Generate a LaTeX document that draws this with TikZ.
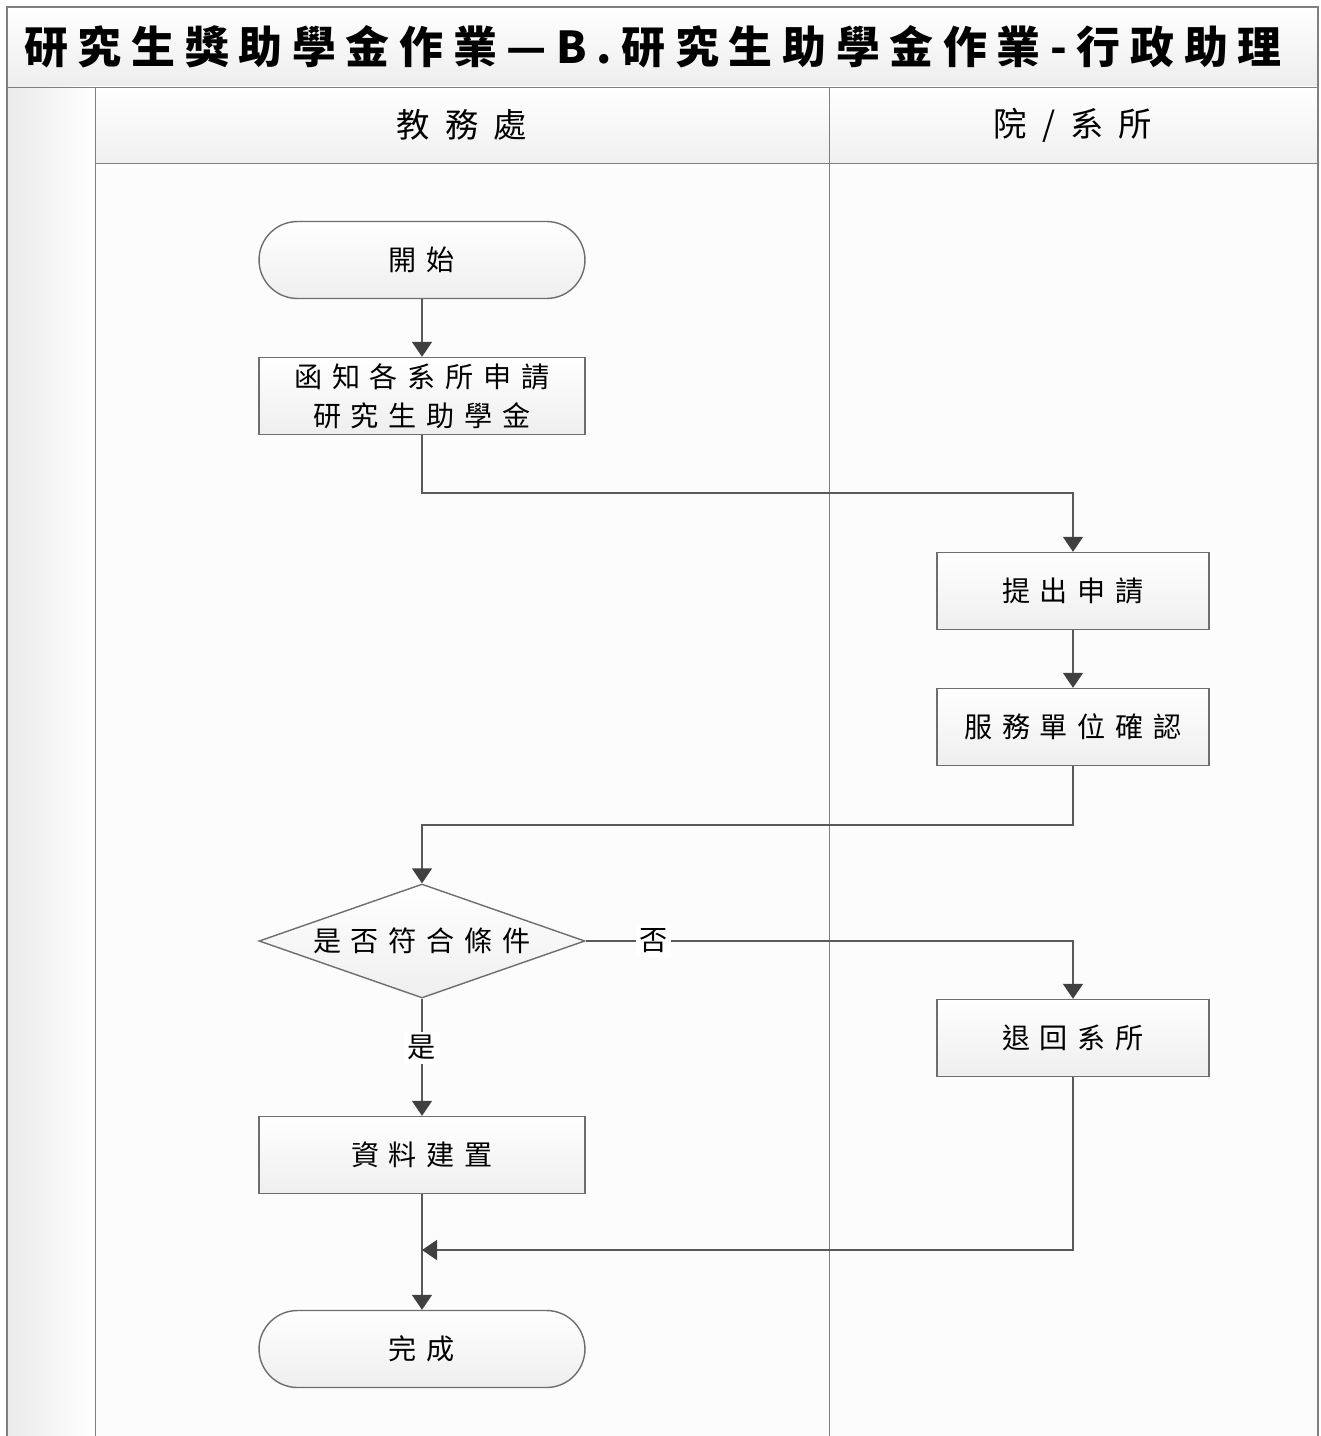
\documentclass[tikz,border=0pt]{standalone}
\usepackage{fontspec}
\newfontfamily\cjk[LetterSpace=35]{Noto Sans CJK TC}
\newfontfamily\cjkhead[LetterSpace=45]{Noto Sans CJK TC}
\newfontfamily\cjktitle[LetterSpace=22]{Noto Sans CJK TC}
\usepackage{xcolor}
\usetikzlibrary{arrows.meta, shapes.geometric, shapes.misc}

\definecolor{linegray}{HTML}{595959}
\definecolor{tipgray}{HTML}{404040}
\definecolor{framegray}{HTML}{7F7F7F}
\definecolor{boxgray}{HTML}{6E6E6E}

\tikzset{
	flowbox/.style={draw=boxgray, line width=0.8pt, top color=white, bottom color=gray!13,
		minimum width=6.52cm, minimum height=1.54cm, inner sep=0pt, align=center,
		font=\cjk\fontsize{16}{22}\selectfont},
	smallbox/.style={flowbox, minimum width=5.44cm},
	terminal/.style={flowbox, rounded rectangle},
	decision/.style={flowbox, diamond, shape aspect=2.86, minimum width=6.52cm, minimum height=2.28cm},
	flowline/.style={draw=linegray, line width=0.9pt, -{Triangle[length=0.3cm, width=0.4cm, color=tipgray]}},
	branch/.style={fill=white, inner sep=2pt, font=\cjk\fontsize{16}{20}\selectfont},
	lanehead/.style={font=\cjkhead\fontsize{19}{24}\selectfont},
}

\begin{document}
\begin{tikzpicture}[x=0.02cm, y=-0.02cm]
		\useasboundingbox (0,0) rectangle (1320,1436);

		% pool and lanes
		\shade[top color=white, bottom color=gray!14] (7,7) rectangle (1318,87);
		\shade[left color=gray!16, right color=white] (7,87) rectangle (95,1436);
		\shade[top color=white, bottom color=gray!12] (95,87) rectangle (1318,163);
		\fill[white!98!gray] (95,163) rectangle (1318,1436);
		\draw[framegray, line width=1.2pt] (7,1436) -- (7,7) -- (1318,7) -- (1318,1436);
		\draw[framegray] (7,87) -- (1318,87);
		\draw[framegray] (95,87) -- (95,1436);
		\draw[framegray] (829,87) -- (829,1436);
		\draw[framegray] (95,163) -- (1318,163);

		\node[font=\cjktitle\fontsize{25}{30}\selectfont\bfseries] (title) at (653,47) {研究生獎助學金作業—B.研究生助學金作業-行政助理};
		\node[lanehead] (lane-a) at (462,125) {教務處};
		\node[lanehead] (lane-b) at (1073,125) {院/系所};

		% steps
		\node[terminal] (start) at (422,260) {開始};
		\node[flowbox] (notify) at (422,396) {函知各系所申請\\研究生助學金};
		\node[smallbox] (apply) at (1073,591) {提出申請};
		\node[smallbox] (confirm) at (1073,727) {服務單位確認};
		\node[decision] (check) at (422,941) {是否符合條件};
		\node[smallbox] (back) at (1073,1038) {退回系所};
		\node[flowbox] (build) at (422,1155) {資料建置};
		\node[terminal] (finish) at (422,1349) {完成};
		\coordinate (merge) at (422,1250);

		% connectors
		\draw[flowline] (start) -- (notify);
		\draw[flowline] (notify.south) -- ++(0,58) -| (apply.north);
		\draw[flowline] (apply) -- (confirm);
		\draw[flowline] (confirm.south) -- ++(0,59) -| (check.north);
		\draw[flowline] (check.east) -| node[branch, pos=0.07] {否} (back.north);
		\draw[flowline] (check.south) -- node[branch, pos=0.42] {是} (build.north);
		\draw[flowline] (build) -- (finish);
		\draw[flowline] (back.south) |- (merge);
	\end{tikzpicture}
\end{document}
